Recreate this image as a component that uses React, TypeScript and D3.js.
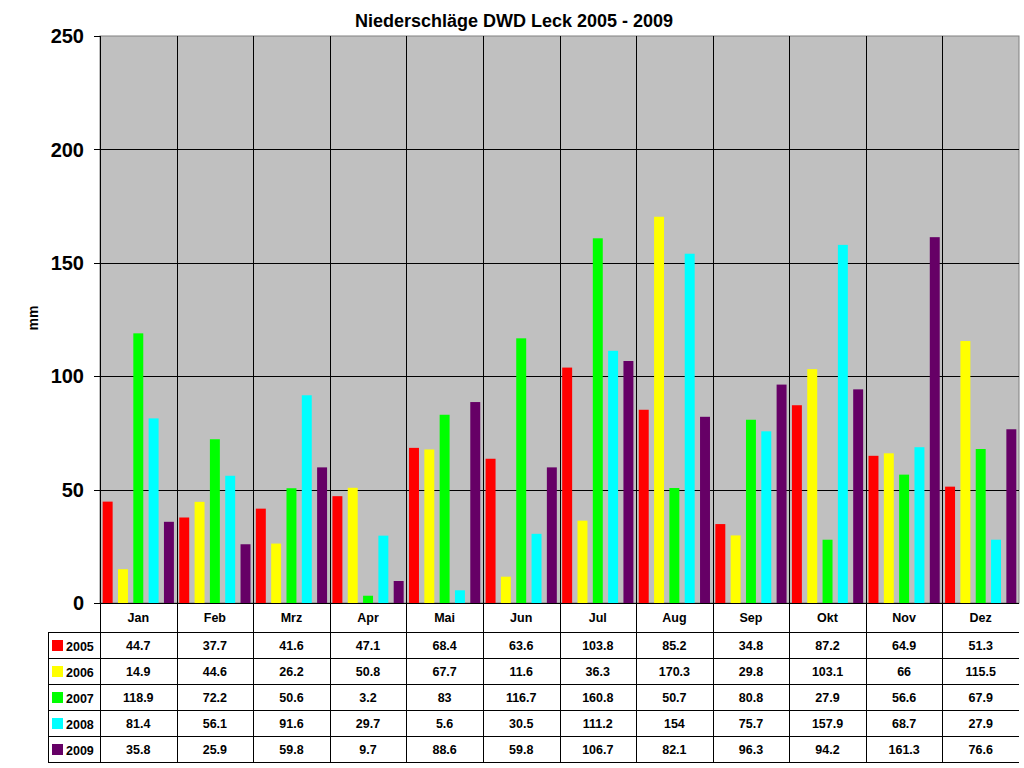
import React, { useEffect, useRef } from 'react';
import * as d3 from 'd3';

const months = ['Jan', 'Feb', 'Mrz', 'Apr', 'Mai', 'Jun', 'Jul', 'Aug', 'Sep', 'Okt', 'Nov', 'Dez'];
const years = ['2005', '2006', '2007', '2008', '2009'];
const yearColors = ['#FF0000', '#FFFF00', '#00FF00', '#00FFFF', '#660066'];

// values as printed in the data table (strings kept for display)
const v2005 = ['44.7', '37.7', '41.6', '47.1', '68.4', '63.6', '103.8', '85.2', '34.8', '87.2', '64.9', '51.3'];
const v2006 = ['14.9', '44.6', '26.2', '50.8', '67.7', '11.6', '36.3', '170.3', '29.8', '103.1', '66', '115.5'];
const v2007 = ['118.9', '72.2', '50.6', '3.2', '83', '116.7', '160.8', '50.7', '80.8', '27.9', '56.6', '67.9'];
const v2008 = ['81.4', '56.1', '91.6', '29.7', '5.6', '30.5', '111.2', '154', '75.7', '157.9', '68.7', '27.9'];
const v2009 = ['35.8', '25.9', '59.8', '9.7', '88.6', '59.8', '106.7', '82.1', '96.3', '94.2', '161.3', '76.6'];
const yTicks = [0, 50, 100, 150, 200, 250];

const seriesValues = [v2005, v2006, v2007, v2008, v2009];

const App: React.FC = () => {
  const svgRef = useRef<SVGSVGElement>(null);
  const width = 1024;
  const height = 768;

  useEffect(() => {
    if (!svgRef.current) return;
    document.body.style.margin = '0';
    const svg = d3.select(svgRef.current);
    svg.selectAll('*').remove();

    const font = '"Liberation Sans", Arial, sans-serif';
    const plot = { left: 100, right: 1019, top: 36, bottom: 603 };
    const legendLeft = 48;
    const headerBottom = 632;
    const rowH = 26;

    const x = d3.scaleBand<string>().domain(months).range([plot.left, plot.right]);
    const xInner = d3
      .scaleBand<string>()
      .domain(years)
      .range([0, x.bandwidth()])
      .paddingInner(0.35)
      .paddingOuter(0.175);
    const y = d3.scaleLinear().domain([0, 250]).range([plot.bottom, plot.top]);

    // plot background
    svg.append('rect')
      .attr('x', plot.left)
      .attr('y', plot.top)
      .attr('width', plot.right - plot.left)
      .attr('height', plot.bottom - plot.top)
      .attr('fill', '#C0C0C0')
      .attr('stroke', '#808080')
      .attr('stroke-width', 1);

    // horizontal gridlines
    svg.append('g')
      .selectAll('line')
      .data(yTicks.filter(t => t > 0 && t < 250))
      .enter()
      .append('line')
      .attr('x1', plot.left)
      .attr('x2', plot.right)
      .attr('y1', d => Math.round(y(d)) + 0.5)
      .attr('y2', d => Math.round(y(d)) + 0.5)
      .attr('stroke', '#000')
      .attr('stroke-width', 1);

    // vertical lines at month boundaries (through the table)
    svg.append('g')
      .selectAll('line')
      .data(months.slice(1))
      .enter()
      .append('line')
      .attr('x1', d => Math.round(x(d)!) + 0.5)
      .attr('x2', d => Math.round(x(d)!) + 0.5)
      .attr('y1', plot.top)
      .attr('y2', headerBottom + rowH * years.length)
      .attr('stroke', '#000')
      .attr('stroke-width', 1);

    // bars
    seriesValues.forEach((vals, si) => {
      svg.append('g')
        .selectAll('rect')
        .data(vals)
        .enter()
        .append('rect')
        .attr('x', (d, i) => x(months[i])! + xInner(years[si])!)
        .attr('width', xInner.bandwidth())
        .attr('y', d => y(+d))
        .attr('height', d => y(0) - y(+d))
        .attr('fill', yearColors[si]);
    });

    // y axis
    svg.append('line')
      .attr('x1', plot.left + 0.5)
      .attr('x2', plot.left + 0.5)
      .attr('y1', plot.top)
      .attr('y2', headerBottom + rowH * years.length)
      .attr('stroke', '#000');

    const yAxis = svg.append('g');
    yTicks.forEach(t => {
      yAxis.append('line')
        .attr('x1', plot.left - 6)
        .attr('x2', plot.left)
        .attr('y1', Math.round(y(t)) + 0.5)
        .attr('y2', Math.round(y(t)) + 0.5)
        .attr('stroke', '#000');
      yAxis.append('text')
        .attr('x', 84)
        .attr('y', y(t))
        .attr('dy', '0.36em')
        .attr('text-anchor', 'end')
        .style('font-family', font)
        .style('font-size', '20px')
        .style('font-weight', 'bold')
        .text(t);
    });

    // axis label
    svg.append('text')
      .attr('transform', 'translate(38, 318) rotate(-90)')
      .attr('text-anchor', 'middle')
      .style('font-family', font)
      .style('font-size', '14px')
      .style('font-weight', 'bold')
      .text('mm');

    // title
    svg.append('text')
      .attr('x', 514)
      .attr('y', 27)
      .attr('text-anchor', 'middle')
      .style('font-family', font)
      .style('font-size', '18px')
      .style('font-weight', 'bold')
      .text('Niederschläge DWD Leck 2005 - 2009');

    // data table
    const table = svg.append('g');
    const rowTops = years.map((_, i) => headerBottom + i * rowH);
    table.append('line')
      .attr('x1', plot.left)
      .attr('x2', plot.right)
      .attr('y1', plot.bottom + 0.5)
      .attr('y2', plot.bottom + 0.5)
      .attr('stroke', '#000');
    [...rowTops, headerBottom + years.length * rowH].forEach(yy => {
      table.append('line')
        .attr('x1', legendLeft)
        .attr('x2', plot.right)
        .attr('y1', yy + 0.5)
        .attr('y2', yy + 0.5)
        .attr('stroke', '#000');
    });
    table.append('line')
      .attr('x1', legendLeft + 0.5)
      .attr('x2', legendLeft + 0.5)
      .attr('y1', headerBottom)
      .attr('y2', headerBottom + years.length * rowH)
      .attr('stroke', '#000');

    months.forEach(m => {
      table.append('text')
        .attr('x', x(m)! + x.bandwidth() / 2)
        .attr('y', (plot.bottom + headerBottom) / 2)
        .attr('dy', '0.36em')
        .attr('text-anchor', 'middle')
        .style('font-family', font)
        .style('font-size', '12.5px')
        .style('font-weight', 'bold')
        .text(m);
    });

    seriesValues.forEach((vals, si) => {
      const cy = rowTops[si] + rowH / 2;
      table.append('rect')
        .attr('x', 52)
        .attr('y', cy - 5)
        .attr('width', 11)
        .attr('height', 11)
        .attr('fill', yearColors[si]);
      table.append('text')
        .attr('x', 66)
        .attr('y', cy + 1)
        .attr('dy', '0.36em')
        .style('font-family', font)
        .style('font-size', '12.5px')
        .style('font-weight', 'bold')
        .text(years[si]);
      vals.forEach((v, i) => {
        table.append('text')
          .attr('x', x(months[i])! + x.bandwidth() / 2)
          .attr('y', cy)
          .attr('dy', '0.36em')
          .attr('text-anchor', 'middle')
          .style('font-family', font)
          .style('font-size', '12.5px')
          .style('font-weight', 'bold')
          .text(v);
      });
    });
  }, []);

  return (
    <svg
      ref={svgRef}
      width={width}
      height={height}
      style={{ position: 'absolute', left: 0, top: 0, background: '#fff' }}
    />
  );
};

export default App;
